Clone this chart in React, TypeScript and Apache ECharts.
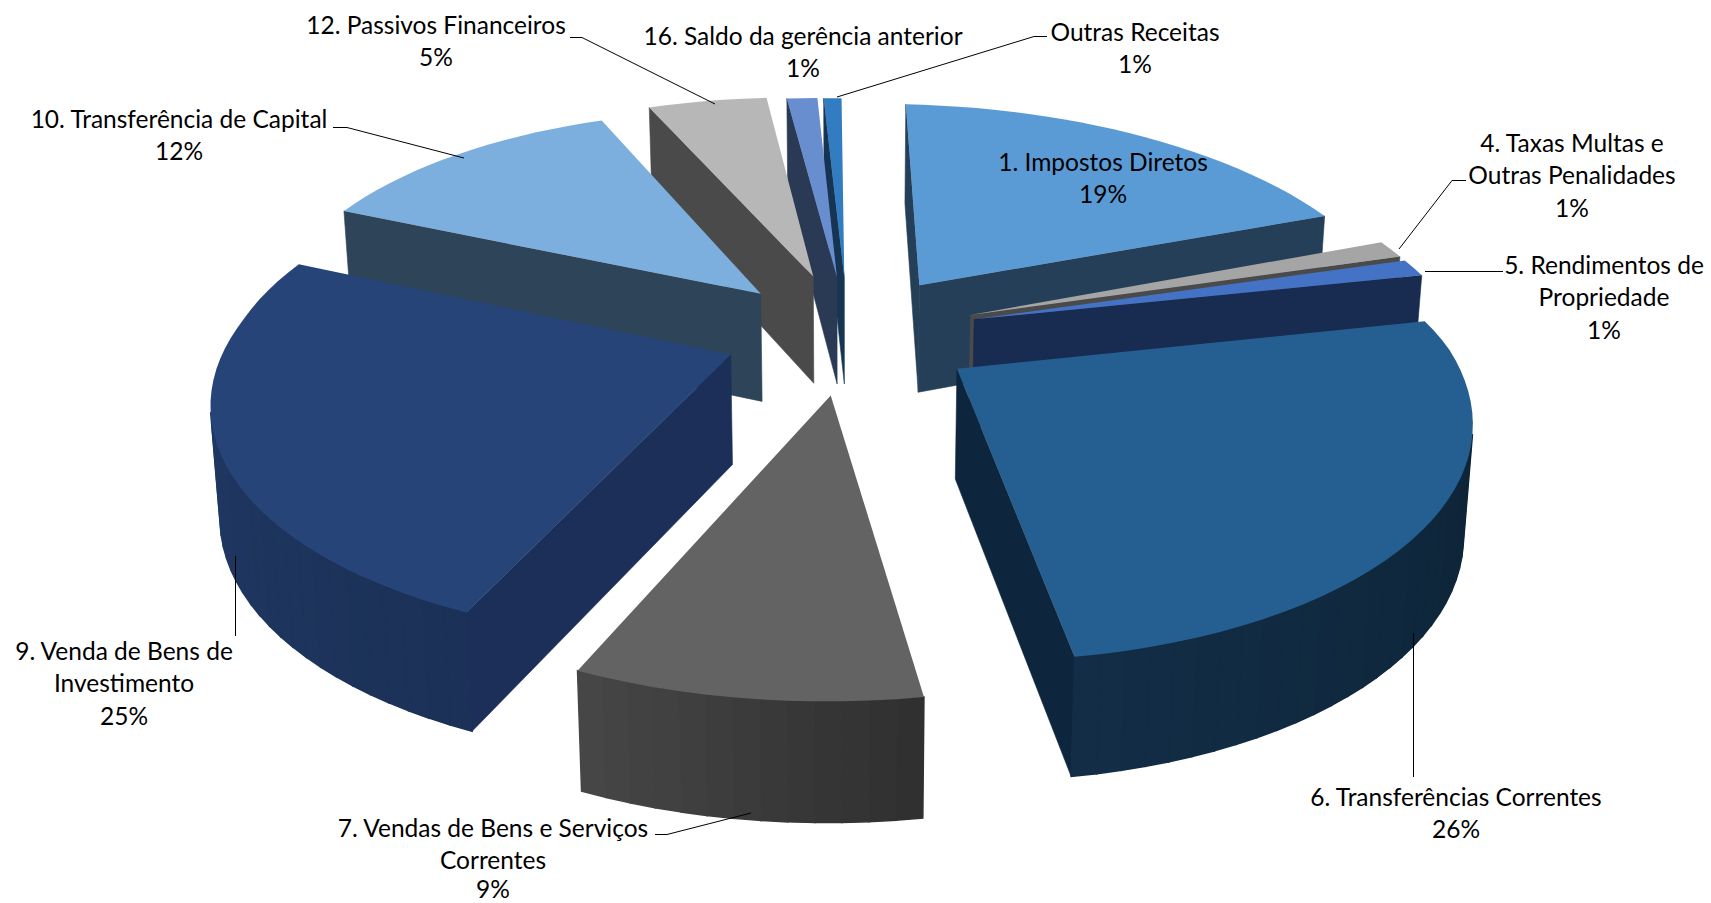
import React, { useEffect, useRef } from "react";
import * as echarts from "echarts";

const categories = [
  "1. Impostos Diretos",
  "4. Taxas Multas e\nOutras Penalidades",
  "5. Rendimentos de\nPropriedade",
  "6. Transferências Correntes",
  "7. Vendas de Bens e Serviços\nCorrentes",
  "9. Venda de Bens de\nInvestimento",
  "10. Transferência de Capital",
  "12. Passivos Financeiros",
  "16. Saldo da gerência anterior",
  "Outras Receitas",
];
const values = [18.6, 1.2, 1.2, 26.0, 9.0, 25.0, 12.4, 4.7, 1.2, 0.7];

const topColors = ["#5B9BD5", "#A5A5A5", "#4472C4", "#255E91", "#636363", "#264478", "#7CAFDD", "#B7B7B7", "#698ED0", "#327DC2"];
const wallColors = ["#253F58", "#4A4A4A", "#182B50", "#0E263D", "#3A3A3A", "#1B2F58", "#2E4459", "#4A4A4A", "#2A3A55", "#153553"];
const paintOrder = [9, 8, 7, 6, 0, 1, 2, 5, 3, 4];
const explosion = [0.275, 0.27, 0.27, 0.26, 0.26, 0.25, 0.25, 0.27, 0.26, 0.26];

// label placement: [centre x, top y]
const labelAnchors = [
  [1103, 145], [1572, 126], [1604, 248], [1456, 780], [493, 811], [124, 634], [179, 102], [436, 8], [803, 19], [1135, 15],
];
const leaders = [
  [[570, 37.5], [582, 37.5], [715, 104]],
  [[1047, 36.5], [1034, 36.5], [837, 97]],
  [[333, 127.5], [347, 127.5], [464, 158]],
  [[1466, 180.5], [1452, 180.5], [1399, 249]],
  [[1503, 271.5], [1425, 271.5]],
  [[1413.5, 777], [1413.5, 633]],
  [[235.5, 636], [235.5, 556]],
  [[655, 834.5], [667, 834.5], [751, 813]],
];
const LINE = 32.6;
const PERCENT_MAX_Y = 888;

// projection of the pie plane
const CX = 848, CY = 334, AX = 495, SHEAR_F = -17, SHEAR_B = 4, ROLL = 10, AY = 228, PERSP = 0.174, DEPTH = 109, DEPTH_PERSP = 0.08, XK = 0.985;

type P = number[];
const projTop = (X: number, Yf: number): P => {
  const w = 1 - PERSP * Yf;
  return [CX + (AX * X + (Yf > 0 ? SHEAR_F : SHEAR_B) * Yf) / w, CY + (AY * Yf + ROLL * X) / w];
};
const projBot = (X: number, Yf: number): P => {
  const t = projTop(X, Yf);
  return [CX + (t[0] - CX) * XK, t[1] + DEPTH / (1 - DEPTH_PERSP * Yf)];
};
const hex = (c: string) => [1, 3, 5].map((i) => parseInt(c.slice(i, i + 2), 16));
const shade = (c: string, f: number) => `rgb(${hex(c).map((v) => Math.round(v * f)).join(",")})`;
const outerFactor = (deg: number) => {
  const stops = [[0, 0.4], [100, 0.38], [170, 0.48], [202, 0.72], [270, 0.85], [360, 0.6]];
  for (let i = 1; i < stops.length; i++) {
    if (deg <= stops[i][0]) {
      const [a, fa] = stops[i - 1];
      const [b, fb] = stops[i];
      return fa + ((fb - fa) * (deg - a)) / (b - a);
    }
  }
  return 0.5;
};
const area = (pts: P[]) => {
  let s = 0;
  pts.forEach((p, i) => {
    const q = pts[(i + 1) % pts.length];
    s += p[0] * q[1] - q[0] * p[1];
  });
  return s;
};

function renderSlice(params: any, api: any) {
  const i = params.dataIndex;
  const total = values.reduce((a, b) => a + b, 0);
  const before = values.slice(0, i).reduce((a, b) => a + b, 0);
  const start = (before / total) * 360;
  const end = ((before + api.value(0)) / total) * 360;
  const mid = (((start + end) / 2) * Math.PI) / 180;
  const ox = explosion[i] * Math.sin(mid);
  const oy = -explosion[i] * Math.cos(mid);
  const rim: { X: number; Y: number; deg: number }[] = [];
  const steps = Math.max(2, Math.ceil((end - start) / 2.5));
  for (let k = 0; k <= steps; k++) {
    const deg = start + ((end - start) * k) / steps;
    const r = (deg * Math.PI) / 180;
    rim.push({ X: ox + Math.sin(r), Y: oy - Math.cos(r), deg });
  }
  const apex = { X: ox, Y: oy, deg: -1 };
  const loop = [apex, ...rim];
  const rank = paintOrder.indexOf(i) * 10;
  const children: any[] = [];
  loop.forEach((a, k) => {
    const b = loop[(k + 1) % loop.length];
    const quad = [projTop(a.X, a.Y), projTop(b.X, b.Y), projBot(b.X, b.Y), projBot(a.X, a.Y)];
    if (area(quad) >= 0) return;
    const isRim = a.deg >= 0 && b.deg >= 0;
    const fill = isRim ? shade(topColors[i], outerFactor((a.deg + b.deg) / 2)) : wallColors[i];
    children.push({
      type: "polygon",
      z2: rank + (isRim ? 2 : 1),
      shape: { points: quad },
      style: { fill, stroke: fill, lineWidth: isRim ? 1.5 : 0.6 },
      silent: true,
    });
  });
  children.push({
    type: "polygon",
    z2: rank + 5,
    shape: { points: loop.map((p) => projTop(p.X, p.Y)) },
    style: { fill: topColors[i] },
    silent: true,
  });
  return { type: "group", children };
}

export default function App() {
  const ref = useRef<HTMLDivElement>(null);
  useEffect(() => {
    document.body.style.margin = "0";
    const chart = echarts.init(ref.current!, undefined, { renderer: "svg" });
    const textStyle = { fill: "#000", fontFamily: "Lato", fontSize: 24.5, textAlign: "center" };
    const nameEls = categories.map((c, i) => ({
      type: "text",
      x: labelAnchors[i][0],
      y: labelAnchors[i][1],
      z: 20,
      style: { ...textStyle, text: c, lineHeight: LINE, textVerticalAlign: "top" },
    }));
    const percentEls = categories.map((c, i) => ({
      type: "text",
      x: labelAnchors[i][0],
      y: Math.min(labelAnchors[i][1] + c.split("\n").length * LINE + LINE / 2, PERCENT_MAX_Y),
      z: 20,
      style: { ...textStyle, text: `${Math.round(values[i])}%`, lineHeight: 18, textVerticalAlign: "middle" },
    }));
    const leaderEls = leaders.map((pts) => ({
      type: "polyline",
      z: 19,
      shape: { points: pts },
      style: { stroke: "#000", lineWidth: 1, fill: "none" },
    }));
    chart.setOption({
      animation: false,
      backgroundColor: "#fff",
      tooltip: { show: false },
      series: [
        {
          type: "custom",
          coordinateSystem: "none",
          renderItem: renderSlice,
          data: values.map((v, i) => ({ name: categories[i], value: [v] })),
          silent: true,
        },
      ],
      graphic: { elements: [...leaderEls, ...nameEls, ...percentEls] },
    });
    return () => chart.dispose();
  }, []);
  return <div ref={ref} style={{ width: 1711, height: 903 }} />;
}
